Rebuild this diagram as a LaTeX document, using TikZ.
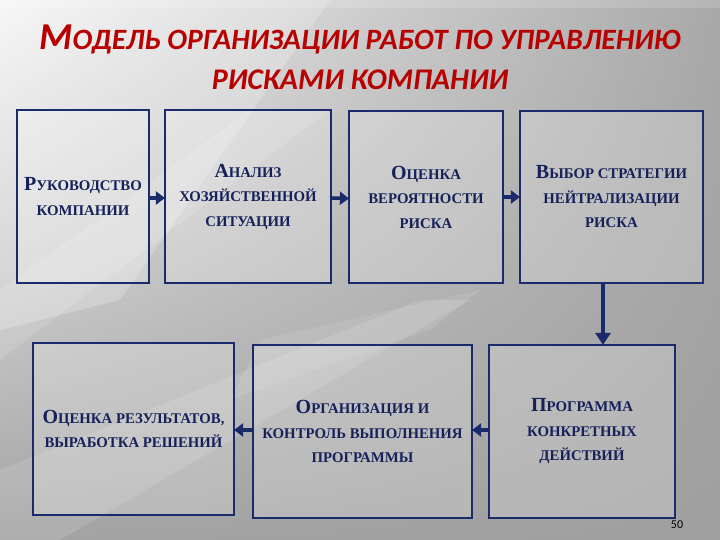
\documentclass[tikz,border=0pt]{standalone}
\usepackage{fontspec}
\setmainfont{Liberation Serif}
\newfontfamily\titlefont{Carlito}
\usetikzlibrary{arrows.meta,shadings}
\definecolor{navy}{HTML}{1B2A6B}
\definecolor{navytxt}{HTML}{16215A}
\definecolor{titlered}{HTML}{B80000}
\newcommand\bigL[1]{{\fontsize{20}{24.5}\selectfont #1}}
\tikzset{
  box/.style={draw=navy, line width=2.2pt, fill=white, fill opacity=0.22, text opacity=1,
    text=navytxt, font=\bfseries\fontsize{14.8}{24.5}\selectfont, align=center, inner sep=0pt},
  arr/.style={draw=navy, line width=3.5pt, -{Triangle[length=9pt,width=13pt]}, shorten >=-1pt, shorten <=-1pt},
  titletxt/.style={text=titlered, font=\titlefont\bfseries\itshape, anchor=base, inner sep=0pt},
}
\begin{document}
\begin{tikzpicture}[x=1pt,y=-1pt]
\useasboundingbox (0,0) rectangle (720,540);
% background
\shade[upper left=white!92!gray, upper right=gray!68, lower left=gray!72, lower right=gray!75] (0,0) rectangle (720,540);
\fill[white, opacity=0.22] (0,0) -- (330,0) -- (120,300) -- (0,330) -- cycle;
\fill[white, opacity=0.14] (0,360) -- (0,290) -- (250,110) -- (330,110) -- cycle;
\fill[white, opacity=0.12] (60,540) -- (0,540) -- (0,470) -- (420,300) -- (470,300) -- cycle;
\fill[white, opacity=0.1] (230,400) -- (260,340) -- (480,290) -- (430,330) -- cycle;
\fill[white, opacity=0.15] (0,0) -- (720,0) -- (720,8) -- (0,8) -- cycle;
% title
\node[titletxt] (t1) at (360,50) {\fontsize{38}{40}\selectfont М\fontsize{29.5}{40}\selectfont ОДЕЛЬ ОРГАНИЗАЦИИ РАБОТ ПО УПРАВЛЕНИЮ};
\node[titletxt] (t2) at (360,90) {\fontsize{30}{40}\selectfont РИСКАМИ КОМПАНИИ};
% boxes
\node[box, minimum width=132pt, minimum height=173pt] (b1) at (83,196.5) {\bigL{Р}УКОВОДСТВО\\КОМПАНИИ};
\node[box, minimum width=166pt, minimum height=173pt] (b2) at (248,196.5) {\bigL{А}НАЛИЗ\\ХОЗЯЙСТВЕННОЙ\\СИТУАЦИИ};
\node[box, minimum width=154pt, minimum height=172pt] (b3) at (426,197) {\bigL{О}ЦЕНКА\\ВЕРОЯТНОСТИ\\РИСКА};
\node[box, minimum width=183pt, minimum height=172pt] (b4) at (611.5,197) {\bigL{В}ЫБОР СТРАТЕГИИ\\НЕЙТРАЛИЗАЦИИ\\РИСКА};
\node[box, minimum width=201pt, minimum height=172pt] (b5) at (133.5,429) {\bigL{О}ЦЕНКА РЕЗУЛЬТАТОВ,\\ВЫРАБОТКА РЕШЕНИЙ};
\node[box, minimum width=219pt, minimum height=173pt] (b6) at (362.5,431.5) {\bigL{О}РГАНИЗАЦИЯ И\\КОНТРОЛЬ ВЫПОЛНЕНИЯ\\ПРОГРАММЫ};
\node[box, minimum width=186pt, minimum height=173pt] (b7) at (582,431.5) {\bigL{П}РОГРАММА\\КОНКРЕТНЫХ\\ДЕЙСТВИЙ};
% connectors
\draw[arr] ([yshift=-1.5pt]b1.east) -- ([yshift=-1.5pt]b2.west);
\draw[arr] ([yshift=-1.5pt]b2.east) -- ([yshift=-1.5pt]b3.west);
\draw[arr] (b3.east) -- (b4.west);
\draw[arr, line width=4.5pt, -{Triangle[length=12pt,width=15pt]}] ([xshift=-8.5pt]b4.south) -- ([xshift=21pt]b7.north);
\draw[arr] ([yshift=1.5pt]b7.west) -- ([yshift=1.5pt]b6.west -| b6.east);
\draw[arr] ([yshift=1.5pt]b6.west) -- ([yshift=1.5pt]b5.east |- b6.west);
% page number
\node[font=\titlefont\fontsize{12}{13}\selectfont, text=black, inner sep=0pt, anchor=base] (pn) at (677,528) {50};
\end{tikzpicture}
\end{document}
